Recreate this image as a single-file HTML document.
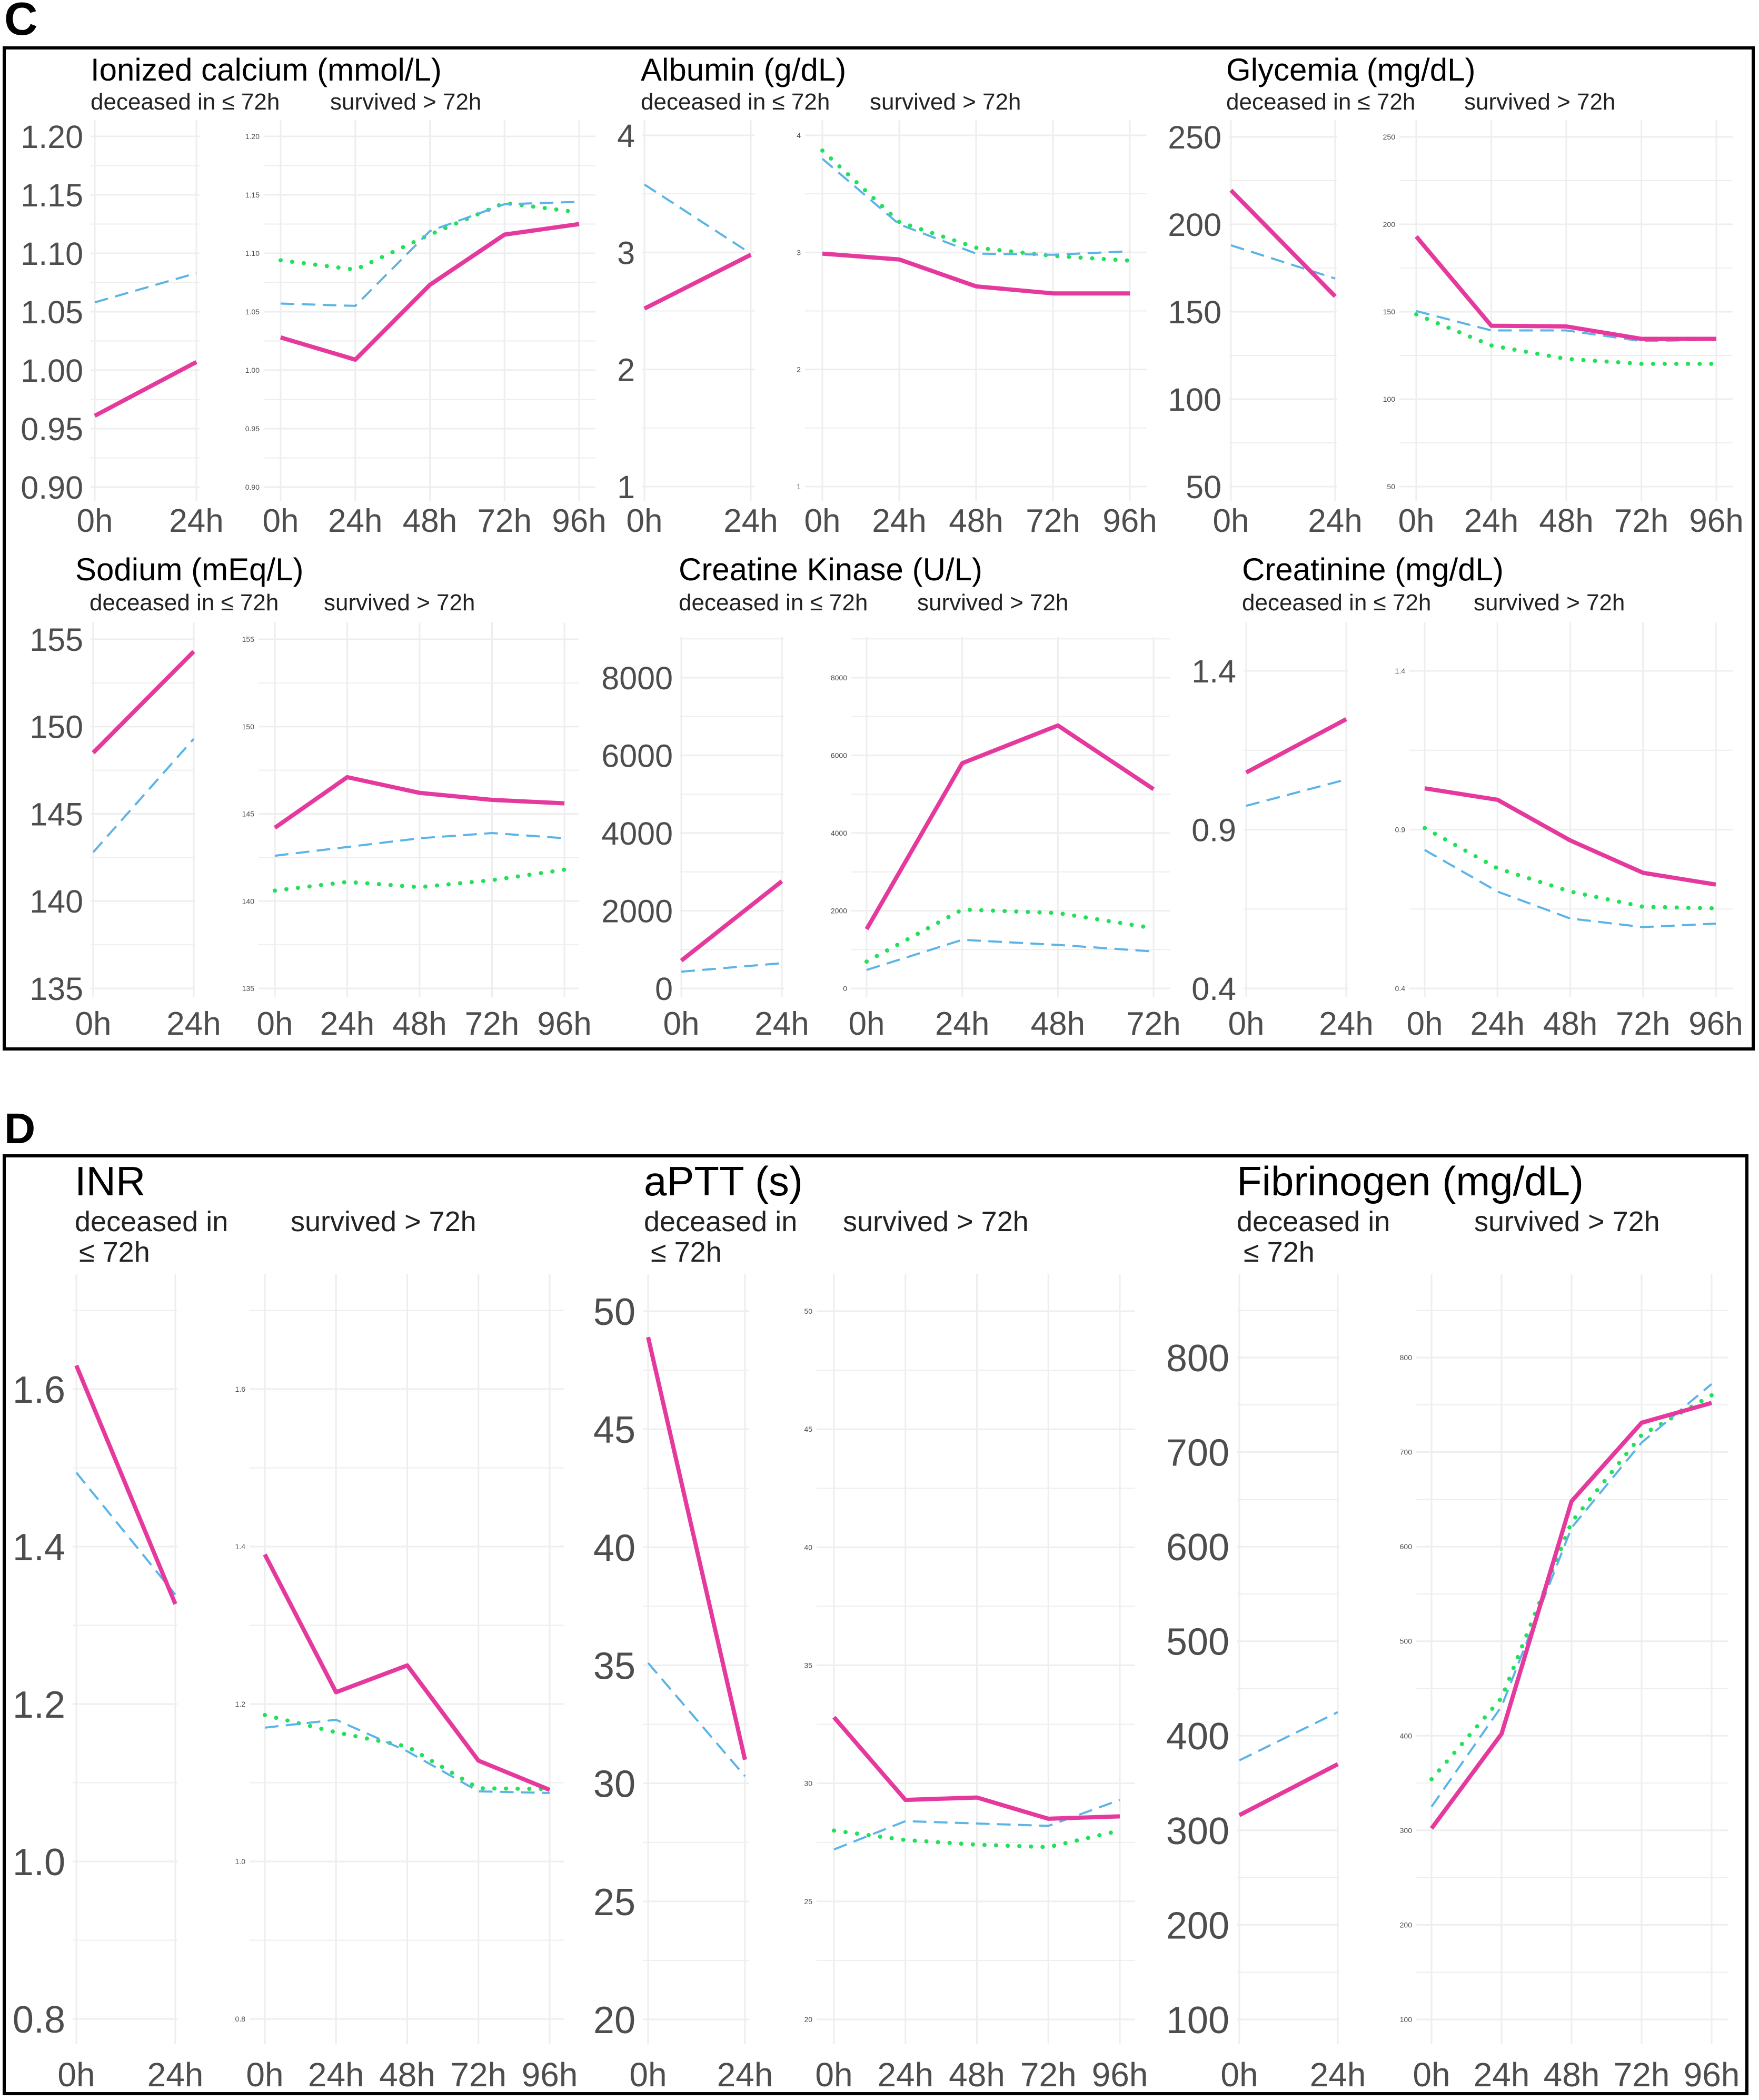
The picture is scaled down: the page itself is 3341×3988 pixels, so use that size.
<!DOCTYPE html>
<html><head><meta charset="utf-8"><style>
html,body{margin:0;padding:0;background:#fff}
svg{display:block}
text{font-family:"Liberation Sans",Arial,sans-serif}
</style></head><body>
<svg id="fig" xmlns="http://www.w3.org/2000/svg" width="3341" height="3988" viewBox="0 0 3341 3988">
<rect x="0" y="0" width="3341" height="3988" fill="#fff"/>
<text x="8" y="66" font-size="88" font-weight="bold">C</text>
<rect x="8" y="91" width="3322" height="1901" fill="none" stroke="#000" stroke-width="6"/>
<text x="8" y="2171" font-size="82" font-weight="bold">D</text>
<rect x="8" y="2195" width="3310" height="1781" fill="none" stroke="#000" stroke-width="6"/>
<g id="plots"></g>
</svg>
<script>
// ---- data ----
const hoursDec = ["0h","24h"];
const hoursSurv = ["0h","24h","48h","72h","96h"];
const hoursSurvCK = ["0h","24h","48h","72h"];

const icaTicks = ["0.90","0.95","1.00","1.05","1.10","1.15","1.20"];
const icaDecRed = [0.961, 1.007];
const icaDecBlue = [1.058, 1.083];
const icaSurvRed = [1.028, 1.009, 1.073, 1.116, 1.125];
const icaSurvBlue = [1.057, 1.055, 1.119, 1.142, 1.144];
const icaSurvGreen = [1.094, 1.086, 1.116, 1.143, 1.135];

const albTicks = ["1","2","3","4"];
const albDecRed = [2.52, 2.98];
const albDecBlue = [3.58, 2.99];
const albSurvRed = [2.99, 2.94, 2.71, 2.65, 2.65];
const albSurvBlue = [3.80, 3.24, 2.99, 2.98, 3.01];
const albSurvGreen = [3.87, 3.26, 3.04, 2.97, 2.93];

const gluTicks = ["50","100","150","200","250"];
const gluDecRed = [219.5, 158.8];
const gluDecBlue = [188, 169];
const gluSurvRed = [193, 142, 141.6, 134.5, 134.5];
const gluSurvBlue = [150.4, 139.3, 139.3, 133.2, 134];
const gluSurvGreen = [148.5, 130.7, 123, 120.2, 120.2];

const naTicks = ["135","140","145","150","155"];
const naDecRed = [148.5, 154.3];
const naDecBlue = [142.8, 149.3];
const naSurvRed = [144.2, 147.1, 146.2, 145.8, 145.6];
const naSurvBlue = [142.6, 143.1, 143.6, 143.9, 143.6];
const naSurvGreen = [140.6, 141.1, 140.8, 141.2, 141.8];

const ckTicks = ["0","2000","4000","6000","8000"];
const ckDecRed = [715, 2760];
const ckDecBlue = [430, 650];
const ckSurvRed = [1525, 5800, 6770, 5130];
const ckSurvBlue = [475, 1250, 1120, 950];
const ckSurvGreen = [690, 2030, 1940, 1550];

const crTicks = ["0.4","0.9","1.4"];
const crDecRed = [1.08, 1.248];
const crDecBlue = [0.975, 1.058];
const crSurvRed = [1.03, 0.994, 0.866, 0.764, 0.727];
const crSurvBlue = [0.836, 0.705, 0.62, 0.593, 0.604];
const crSurvGreen = [0.905, 0.778, 0.705, 0.657, 0.652];

const inrTicks = ["0.8","1.0","1.2","1.4","1.6"];
const inrDecRed = [1.63, 1.327];
const inrDecBlue = [1.494, 1.339];
const inrSurvRed = [1.39, 1.215, 1.249, 1.128, 1.091];
const inrSurvBlue = [1.17, 1.18, 1.14, 1.089, 1.087];
const inrSurvGreen = [1.186, 1.164, 1.146, 1.093, 1.092];

const apttTicks = ["20","25","30","35","40","45","50"];
const apttDecRed = [48.9, 31.0];
const apttDecBlue = [35.1, 30.3];
const apttSurvRed = [32.8, 29.3, 29.4, 28.5, 28.6];
const apttSurvBlue = [27.2, 28.4, 28.3, 28.2, 29.3];
const apttSurvGreen = [28.0, 27.6, 27.4, 27.3, 28.0];

const fibTicks = ["100","200","300","400","500","600","700","800"];
const fibDecRed = [316, 370];
const fibDecBlue = [374, 425];
const fibSurvRed = [302, 402, 648, 731, 752];
const fibSurvBlue = [325, 431, 620, 710, 772];
const fibSurvGreen = [354, 440, 626, 718, 760];

// ---- drawing ----
const NS = "http://www.w3.org/2000/svg";
const root = document.getElementById("plots");
function mk(tag, attrs, parent){const e=document.createElementNS(NS,tag);for(const k in attrs)e.setAttribute(k,attrs[k]);(parent||root).appendChild(e);return e;}
const RED="#e5399e", BLUE="#5bb4e8", GREEN="#22e05a", GRID="#eeeeee", TXT="#4d4d4d";

function yScale(lay){const lo=parseFloat(lay.ticks[0]),hi=parseFloat(lay.ticks[lay.ticks.length-1]);return v=>lay.yBot+(v-lo)/(hi-lo)*(lay.yTop-lay.yBot);}
function xScale(x0,x1,n){return i=>x0+(x1-x0)*i/(n-1);}

function drawPanel(g, p, lay, cats, series, bigLabels){
  const y=yScale(lay), x=xScale(p.x0,p.x1,cats.length);
  const lo=parseFloat(lay.ticks[0]),hi=parseFloat(lay.ticks[lay.ticks.length-1]);
  const step=(hi-lo)/(lay.ticks.length-1);
  for(let v=lo-step/2; v<=hi+step/2+1e-9; v+=step){const yy=y(v); if(yy<lay.gTop||yy>lay.gBot)continue;
    const l=mk("line",{x1:p.g0,x2:p.g1,y1:yy,y2:yy,stroke:GRID,"stroke-width":2},g);
    
    }
  lay.ticks.forEach(t=>{const yy=y(parseFloat(t));
    const l=mk("line",{x1:p.g0,x2:p.g1,y1:yy,y2:yy,stroke:GRID,"stroke-width":3},g);
    
    
    const tx=mk("text",{x:p.g0-(bigLabels?14:8),y:yy+(bigLabels?lay.ls*0.36:5),"font-size":bigLabels?lay.ls:14,fill:TXT,"text-anchor":"end"},g);
    tx.textContent=t;
    
    });
  cats.forEach((c,i)=>{const xx=x(i);
    const l=mk("line",{x1:xx,x2:xx,y1:lay.gTop,y2:lay.gBot,stroke:GRID,"stroke-width":3},g);
    
    
    const tx=mk("text",{x:xx,y:lay.xLabY,"font-size":lay.xs,fill:TXT,"text-anchor":"middle"},g);
    tx.textContent=c;
    
    });
  series.forEach(s=>{if(!s.vals)return;
    const pts=s.vals.map((v,i)=>x(i).toFixed(1)+","+y(v).toFixed(1)).join(" ");
    const a={points:pts,fill:"none",stroke:s.c,"stroke-width":s.w,"stroke-linejoin":"round","stroke-linecap":s.cap||"butt"};
    if(s.dash)a["stroke-dasharray"]=s.dash;
    const pl=mk("polyline",a,g);
    
    });
}

function group(name, title, lay, L, R, dec, surv, catsR){
  const g=mk("g",{});
  
  
  const t=mk("text",{x:lay.tx,y:lay.tY,"font-size":lay.ts,fill:"#000"},g);t.textContent=title;
  
  
  lay.sub.forEach(s=>{const st=mk("text",{x:s[0],y:s[1],"font-size":lay.ss,fill:"#222"},g);st.textContent=s[2];
    
    });
  drawPanel(g,L,lay,hoursDec,[
    {vals:dec[1],c:BLUE,w:4,dash:"26 14",name:"deceased-blue-line"},
    {vals:dec[0],c:RED,w:8,name:"deceased-red-line"}],true);
  drawPanel(g,R,lay,catsR||hoursSurv,[
    {vals:surv[2],c:GREEN,w:8,dash:"0.1 22",cap:"round",name:"survived-green-line"},
    {vals:surv[1],c:BLUE,w:4,dash:"26 14",name:"survived-blue-line"},
    {vals:surv[0],c:RED,w:8,name:"survived-red-line"}],false);
}

const r1={yTop:259,yBot:925,gTop:228,gBot:951,xLabY:1010,ts:60,tY:153,ss:44,ls:61,xs:62};
group("ionized-calcium-chart","Ionized calcium (mmol/L)",Object.assign({},r1,{ticks:icaTicks,tx:172,sub:[[172,208,"deceased in ≤ 72h"],[627,208,"survived > 72h"]]}),
 {x0:180,x1:373,g0:172,g1:379},{x0:533,x1:1100,g0:501,g1:1131},[icaDecRed,icaDecBlue],[icaSurvRed,icaSurvBlue,icaSurvGreen]);
group("albumin-chart","Albumin (g/dL)",Object.assign({},r1,{ticks:albTicks,yTop:257,yBot:924,tx:1217,sub:[[1217,208,"deceased in ≤ 72h"],[1652,208,"survived > 72h"]]}),
 {x0:1224,x1:1426,g0:1220,g1:1434},{x0:1562,x1:2146,g0:1529,g1:2178},[albDecRed,albDecBlue],[albSurvRed,albSurvBlue,albSurvGreen]);
group("glycemia-chart","Glycemia (mg/dL)",Object.assign({},r1,{ticks:gluTicks,yTop:260,yBot:924,tx:2329,sub:[[2329,208,"deceased in ≤ 72h"],[2781,208,"survived > 72h"]]}),
 {x0:2338,x1:2536,g0:2334,g1:2540},{x0:2690,x1:3260,g0:2658,g1:3291},[gluDecRed,gluDecBlue],[gluSurvRed,gluSurvBlue,gluSurvGreen]);

const r2={yBot:1877,gTop:1182,gBot:1893,xLabY:1965,ts:60,tY:1102,ss:44,ls:61,xs:62};
group("sodium-chart","Sodium (mEq/L)",Object.assign({},r2,{ticks:naTicks,yTop:1214,tx:143,sub:[[170,1159,"deceased in ≤ 72h"],[615,1159,"survived > 72h"]]}),
 {x0:177,x1:368,g0:172,g1:370},{x0:522,x1:1072,g0:491,g1:1100},[naDecRed,naDecBlue],[naSurvRed,naSurvBlue,naSurvGreen]);
group("creatine-kinase-chart","Creatine Kinase (U/L)",Object.assign({},r2,{ticks:ckTicks,yTop:1287,gTop:1210,tx:1289,sub:[[1289,1159,"deceased in ≤ 72h"],[1742,1159,"survived > 72h"]]}),
 {x0:1294,x1:1485,g0:1292,g1:1489},{x0:1646,x1:2191,g0:1617,g1:2222},[ckDecRed,ckDecBlue],[ckSurvRed,ckSurvBlue,ckSurvGreen],hoursSurvCK);
group("creatinine-chart","Creatinine (mg/dL)",Object.assign({},r2,{ticks:crTicks,yTop:1274,tx:2359,sub:[[2359,1159,"deceased in ≤ 72h"],[2799,1159,"survived > 72h"]]}),
 {x0:2367,x1:2557,g0:2362,g1:2560},{x0:2706,x1:3259,g0:2677,g1:3292},[crDecRed,crDecBlue],[crSurvRed,crSurvBlue,crSurvGreen]);

const r3={yBot:3835,gTop:2419,gBot:3882,xLabY:3962,ts:78,tY:2270,ss:54,ls:72,xs:64};
group("inr-chart","INR",Object.assign({},r3,{ticks:inrTicks,yTop:2638,yBot:3834,tx:142,sub:[[142,2338,"deceased in"],[150,2396,"≤ 72h"],[552,2338,"survived > 72h"]]}),
 {x0:145,x1:333,g0:138,g1:337},{x0:503,x1:1044,g0:474,g1:1071},[inrDecRed,inrDecBlue],[inrSurvRed,inrSurvBlue,inrSurvGreen]);
group("aptt-chart","aPTT (s)",Object.assign({},r3,{ticks:apttTicks,yTop:2490,tx:1223,sub:[[1223,2338,"deceased in"],[1236,2396,"≤ 72h"],[1601,2338,"survived > 72h"]]}),
 {x0:1231,x1:1415,g0:1221,g1:1423},{x0:1584,x1:2127,g0:1551,g1:2156},[apttDecRed,apttDecBlue],[apttSurvRed,apttSurvBlue,apttSurvGreen]);
group("fibrinogen-chart","Fibrinogen (mg/dL)",Object.assign({},r3,{ticks:fibTicks,yTop:2578,tx:2349,sub:[[2349,2338,"deceased in"],[2362,2396,"≤ 72h"],[2800,2338,"survived > 72h"]]}),
 {x0:2354,x1:2541,g0:2349,g1:2543},{x0:2719,x1:3251,g0:2690,g1:3282},[fibDecRed,fibDecBlue],[fibSurvRed,fibSurvBlue,fibSurvGreen]);
</script>
</body></html>
